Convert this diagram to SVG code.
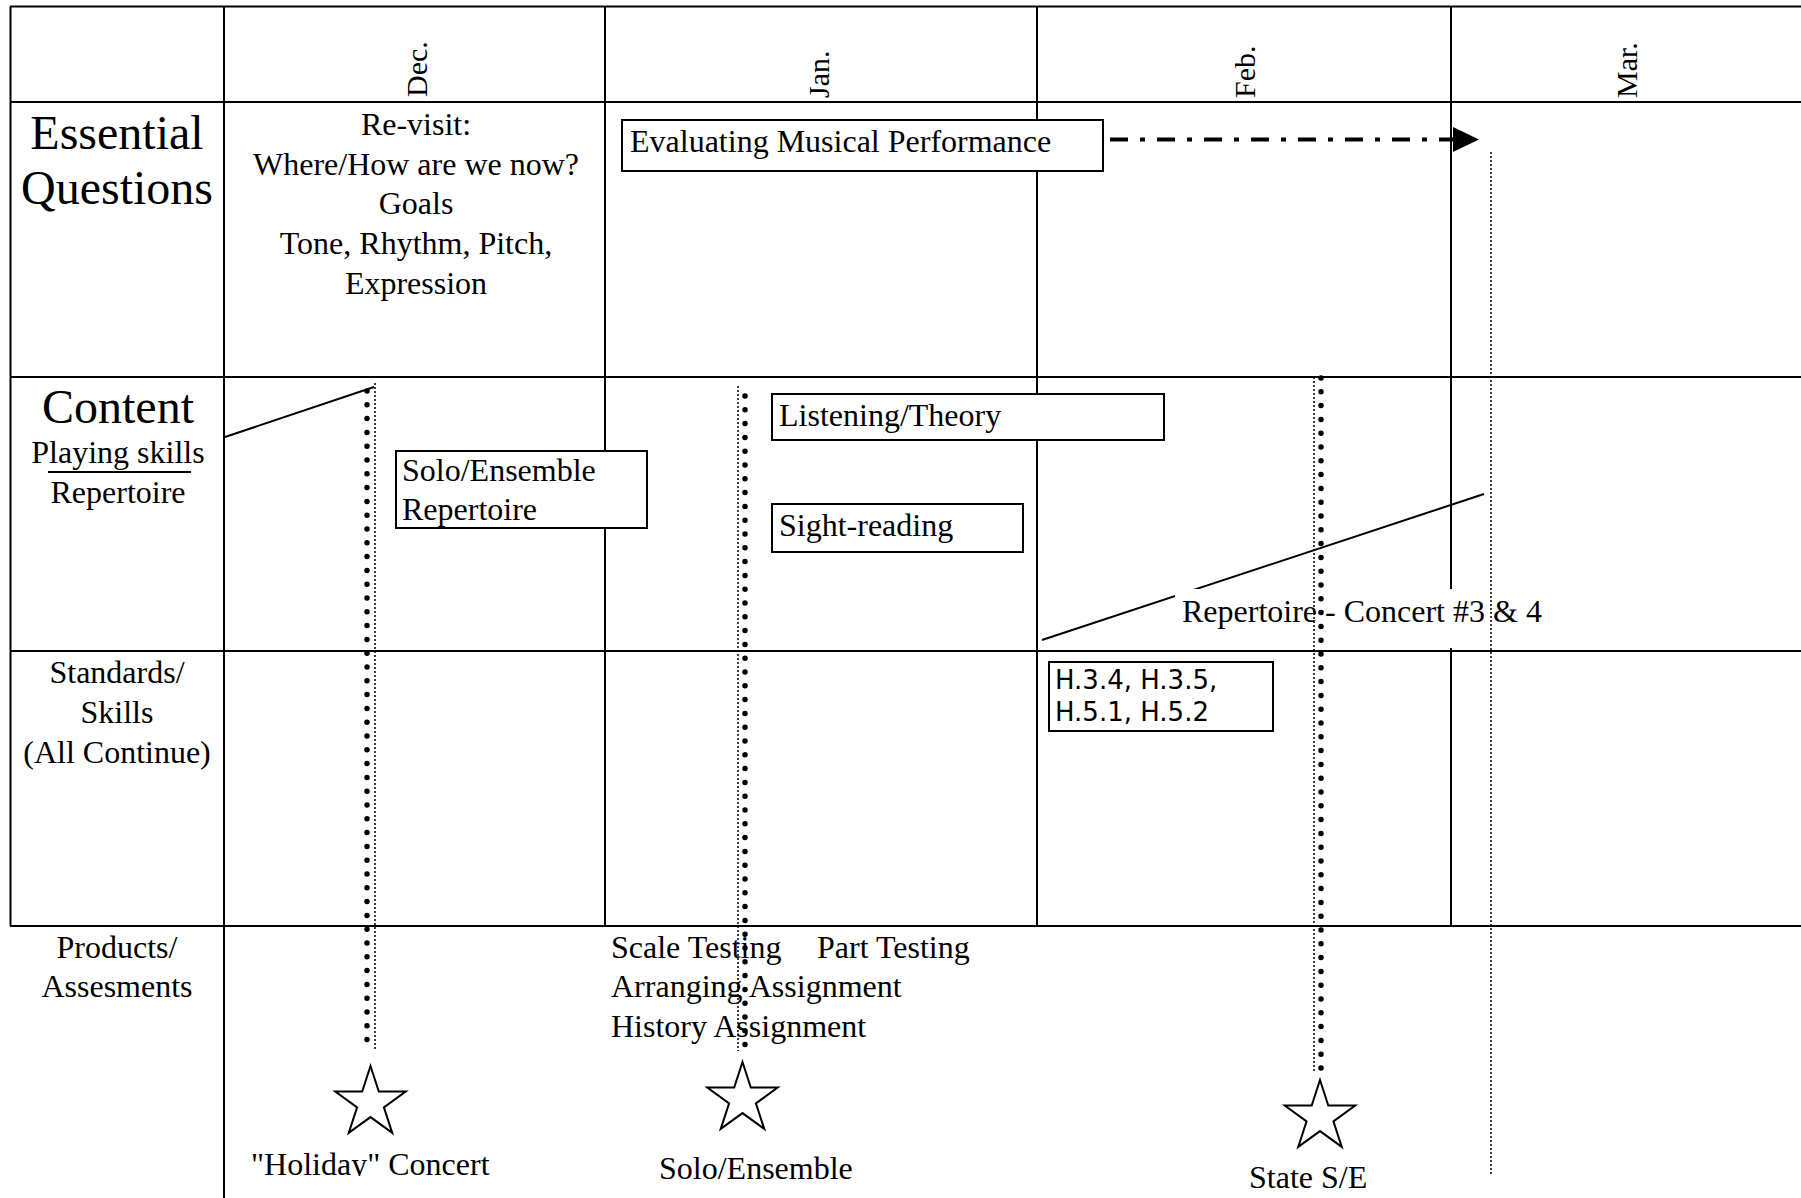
<svg xmlns="http://www.w3.org/2000/svg" width="1801" height="1198" viewBox="0 0 1801 1198">
<style>
.bg{fill:#fff}
.grid{stroke:#000;stroke-width:2;fill:none}
.box{fill:#fff;stroke:#000;stroke-width:2}
.t{font-family:"Liberation Serif","Times New Roman",serif;font-size:32px;fill:#000}
.big{font-size:48px}
.mon{font-size:30px}
.c{text-anchor:middle}
.sans{font-family:"DejaVu Sans",Verdana,sans-serif;font-size:26px;fill:#000}
.dots{stroke:#000;stroke-width:5.5;stroke-linecap:round;stroke-dasharray:0 13.8;fill:none}
.thin{stroke:#000;stroke-width:1.5;stroke-dasharray:2 2;fill:none}
.line{stroke:#000;stroke-width:2;fill:none}
.star{fill:#fff;stroke:#000;stroke-width:2;stroke-linejoin:miter}
</style>
<defs>
<path id="star" d="M0,-37 L8.29,-11.41 L35.19,-11.43 L13.41,4.36 L21.75,29.93 L0,14.1 L-21.75,29.93 L-13.41,4.36 L-35.19,-11.43 L-8.29,-11.41 Z"/>
<clipPath id="clipHoliday"><rect x="200" y="1130" width="320" height="46"/></clipPath>
</defs>
<rect class="bg" x="0" y="0" width="1801" height="1198"/>

<g id="grid" class="grid">
<line x1="10" y1="6.5" x2="1801" y2="6.5"/>
<line x1="10" y1="102" x2="1801" y2="102"/>
<line x1="10" y1="377" x2="1801" y2="377"/>
<line x1="10" y1="651" x2="1801" y2="651"/>
<line x1="10" y1="926" x2="1801" y2="926"/>
<line x1="10.5" y1="6.5" x2="10.5" y2="926"/>
<line x1="224" y1="6.5" x2="224" y2="1198"/>
<line x1="605" y1="6.5" x2="605" y2="926"/>
<line x1="1037" y1="6.5" x2="1037" y2="926"/>
<line x1="1451" y1="6.5" x2="1451" y2="926"/>
</g>

<g id="month-labels">
<text class="t mon" transform="translate(427,97) rotate(-90)">Dec.</text>
<text class="t mon" transform="translate(829,98) rotate(-90)">Jan.</text>
<text class="t mon" transform="translate(1255,98) rotate(-90)">Feb.</text>
<text class="t mon" transform="translate(1637,98) rotate(-90)">Mar.</text>
</g>

<g id="row-essential-questions">
<text class="t big c" x="117" y="149">Essential</text>
<text class="t big c" x="117" y="204">Questions</text>
</g>
<g id="row-content">
<text class="t big c" x="118" y="423">Content</text>
<text class="t c" x="118" y="463">Playing skills</text>
<line class="line" x1="48" y1="472" x2="191" y2="472"/>
<text class="t c" x="118" y="503">Repertoire</text>
</g>
<g id="row-standards">
<text class="t c" x="117" y="683">Standards/</text>
<text class="t c" x="117" y="723">Skills</text>
<text class="t c" x="117" y="763">(All Continue)</text>
</g>
<g id="row-products">
<text class="t c" x="117" y="958">Products/</text>
<text class="t c" x="117" y="997">Assesments</text>
</g>

<g id="dec-questions">
<text class="t c" x="416" y="135">Re-visit:</text>
<text class="t c" x="416" y="175">Where/How are we now?</text>
<text class="t c" x="416" y="214">Goals</text>
<text class="t c" x="416" y="254">Tone, Rhythm, Pitch,</text>
<text class="t c" x="416" y="294">Expression</text>
</g>

<g id="connectors">
<line class="line" x1="225" y1="437" x2="374" y2="387"/>
<line class="line" x1="1042" y1="640" x2="1484" y2="494"/>
<line x1="1110" y1="139.5" x2="1455" y2="139.5" stroke="#000" stroke-width="4" stroke-dasharray="18 12 5 12"/>
<polygon points="1453,127 1479,139.5 1453,152" fill="#000"/>
</g>

<g id="repertoire-concert">
<rect x="1175" y="589" width="373" height="59" fill="#fff"/>
<text class="t" x="1182" y="622">Repertoire - Concert #3 &amp; 4</text>
</g>

<g id="evaluating-musical-performance">
<rect class="box" x="622" y="120" width="481" height="51"/>
<text class="t" x="630" y="152">Evaluating Musical Performance</text>
</g>
<g id="solo-ensemble-repertoire">
<rect class="box" x="396" y="451" width="251" height="77"/>
<text class="t" x="402" y="481">Solo/Ensemble</text>
<text class="t" x="402" y="520">Repertoire</text>
</g>
<g id="listening-theory">
<rect class="box" x="772" y="394" width="392" height="46"/>
<text class="t" x="779" y="426">Listening/Theory</text>
</g>
<g id="sight-reading">
<rect class="box" x="772" y="504" width="251" height="48"/>
<text class="t" x="779" y="536">Sight-reading</text>
</g>
<g id="standards-box">
<rect class="box" x="1049" y="662" width="224" height="69"/>
<text class="sans" x="1055" y="689">H.3.4, H.3.5,</text>
<text class="sans" x="1055" y="721">H.5.1, H.5.2</text>
</g>

<g id="jan-products">
<text class="t" x="611" y="958">Scale Testing</text>
<text class="t" x="817" y="958">Part Testing</text>
<text class="t" x="611" y="997">Arranging Assignment</text>
<text class="t" x="611" y="1037">History Assignment</text>
</g>

<g id="timeline-markers">
<line class="thin" x1="375" y1="383" x2="375" y2="1049"/>
<line class="dots" x1="367" y1="391" x2="367" y2="1049"/>
<line class="thin" x1="738" y1="386" x2="738" y2="1051"/>
<line class="dots" x1="745" y1="396" x2="745" y2="1050"/>
<line class="thin" x1="1314" y1="377" x2="1314" y2="1072"/>
<line class="dots" x1="1321" y1="378" x2="1321" y2="1072"/>
<line class="thin" x1="1491" y1="152" x2="1491" y2="1174"/>
</g>

<g id="holiday-concert">
<use href="#star" class="star" transform="translate(370.5,1103)"/>
<text class="t" x="251" y="1175" clip-path="url(#clipHoliday)">"Holiday" Concert</text>
</g>
<g id="solo-ensemble-event">
<use href="#star" class="star" transform="translate(742.5,1099)"/>
<text class="t" x="659" y="1179">Solo/Ensemble</text>
</g>
<g id="state-se">
<use href="#star" class="star" transform="translate(1320,1117)"/>
<text class="t" x="1249" y="1188">State S/E</text>
</g>
</svg>
